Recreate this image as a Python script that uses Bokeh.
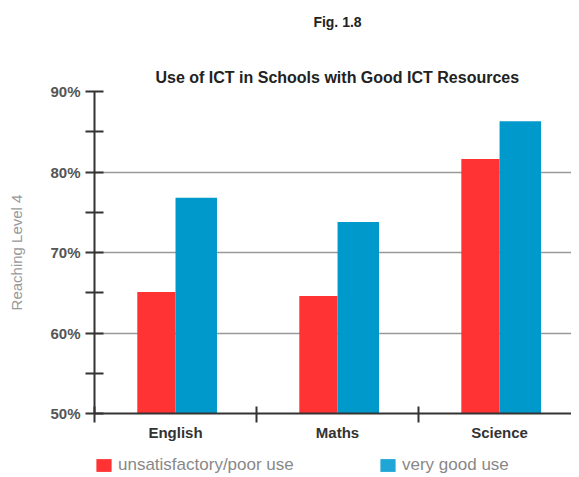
from bokeh.plotting import figure
from bokeh.layouts import column
from bokeh.models import Range1d, FixedTicker, Title, Legend, LegendItem, CustomJSTickFormatter, Div
from bokeh.embed import file_html
from bokeh.resources import INLINE
import numpy as np

categories = ["English", "Maths", "Science"]
unsatisfactory = [65.1, 64.6, 81.6]
very_good = [76.8, 73.8, 86.3]
y_ticks = [50, 60, 70, 80, 90]
y_tick_labels = ["50%", "60%", "70%", "80%", "90%"]
y_minor = [55, 65, 75, 85]
series_names = ["unsatisfactory/poor use", "very good use"]
title_text = "Use of ICT in Schools with Good ICT Resources"
fig_text = "Fig. 1.8"
y_label = "Reaching Level 4"

FONT = "Liberation Sans"
RED = "#ff3333"
BLUE = "#0099cc"
BLUE_KEY = "#1fa5d6"
W = 571
H_HEAD = 40

head = Div(text=fig_text, width=W, height=H_HEAD, margin=0,
           styles={"font-family": FONT, "font-size": "14px", "font-weight": "bold",
                   "color": "#222222", "text-align": "center", "line-height": "16px",
                   "padding-top": "14px", "padding-left": "104px",
                   "box-sizing": "border-box", "width": f"{W}px"})

p = figure(width=W, height=443 - H_HEAD, output_backend="svg", toolbar_location=None,
           x_range=Range1d(0, 2.944), y_range=Range1d(50, 90),
           min_border_left=94, min_border_right=0, min_border_top=91 - H_HEAD,
           min_border_bottom=30, margin=0)
p.outline_line_color = None
p.border_fill_color = "white"
p.background_fill_color = "white"

idx = np.arange(len(categories))
centers = idx + 0.5
red = p.vbar(x=centers - 0.118, width=0.236, bottom=50, top=unsatisfactory,
             fill_color=RED, line_color=None)
blue = p.vbar(x=centers + 0.128, width=0.256, bottom=50, top=very_good,
              fill_color=BLUE, line_color=None)

# y axis
p.yaxis.ticker = FixedTicker(ticks=y_ticks, minor_ticks=y_minor)
p.yaxis.major_label_overrides = dict(zip(y_ticks, y_tick_labels))
p.yaxis.axis_line_width = 2
p.yaxis.axis_line_color = "#333333"
p.yaxis.major_tick_line_width = 2
p.yaxis.major_tick_line_color = "#333333"
p.yaxis.minor_tick_line_width = 2
p.yaxis.minor_tick_line_color = "#333333"
p.yaxis.major_tick_in = 9
p.yaxis.major_tick_out = 9
p.yaxis.minor_tick_in = 9
p.yaxis.minor_tick_out = 9
p.yaxis.major_label_standoff = 5
p.yaxis.major_label_text_font = FONT
p.yaxis.major_label_text_font_size = "15px"
p.yaxis.major_label_text_font_style = "bold"
p.yaxis.major_label_text_color = "#555555"
p.yaxis.axis_label = y_label
p.yaxis.axis_label_text_font = FONT
p.yaxis.axis_label_text_font_size = "15px"
p.yaxis.axis_label_text_font_style = "normal"
p.yaxis.axis_label_text_color = "#999999"
p.yaxis.axis_label_standoff = 22

# x axis
p.xaxis.ticker = FixedTicker(ticks=list(centers), minor_ticks=list(range(len(categories) + 1)))
p.xaxis.formatter = CustomJSTickFormatter(args=dict(cats=categories),
                                          code="return cats[Math.floor(tick)];")
p.xaxis.axis_line_width = 2
p.xaxis.axis_line_color = "#333333"
p.xaxis.major_tick_in = 0
p.xaxis.major_tick_out = 0
p.xaxis.minor_tick_in = 7
p.xaxis.minor_tick_out = 9
p.xaxis.minor_tick_line_width = 2
p.xaxis.minor_tick_line_color = "#333333"
p.xaxis.major_label_standoff = 1
p.xaxis.major_label_text_font = FONT
p.xaxis.major_label_text_font_size = "15px"
p.xaxis.major_label_text_font_style = "bold"
p.xaxis.major_label_text_color = "#333333"

# grid
p.xgrid.visible = False
p.ygrid.ticker = FixedTicker(ticks=y_ticks[1:])
p.ygrid.grid_line_color = "#999999"
p.ygrid.grid_line_width = 1.5

# chart title
sub = Title(text=title_text, align="left", text_font=FONT, text_font_size="16px",
            text_font_style="bold", text_color="#222222", standoff=12, offset=61)
p.add_layout(sub, "above")

# legend strip (its frame is aligned with the chart's frame by the column)
p2 = figure(width=W, height=32, output_backend="svg", toolbar_location=None,
            x_range=Range1d(0, 2.944), y_range=Range1d(0, 1),
            x_axis_location=None, y_axis_location=None,
            min_border_left=94, min_border_right=0, min_border_top=0, min_border_bottom=0,
            margin=0)
p2.outline_line_color = None
p2.xgrid.visible = False
p2.ygrid.visible = False
# same series as zero-width bars outside this strip's range: only their legend keys show
k_red = p2.vbar(x=centers, width=0, bottom=50, top=unsatisfactory,
                fill_color=RED, line_color=None)
k_blue = p2.vbar(x=centers, width=0, bottom=50, top=very_good,
                 fill_color=BLUE_KEY, line_color=None)

for rend, name, loc in [(k_red, series_names[0], (0, 0)), (k_blue, series_names[1], (284, 0))]:
    lg = Legend(items=[LegendItem(label=name, renderers=[rend])],
                location=loc, glyph_width=19, glyph_height=16, label_standoff=5,
                border_line_color=None, background_fill_alpha=0,
                label_text_font=FONT, label_text_font_size="17px",
                label_text_color="#888888", padding=0, margin=0)
    p2.add_layout(lg, "center")

open("out.html", "w").write(file_html(column(head, p, p2, spacing=0), INLINE))
